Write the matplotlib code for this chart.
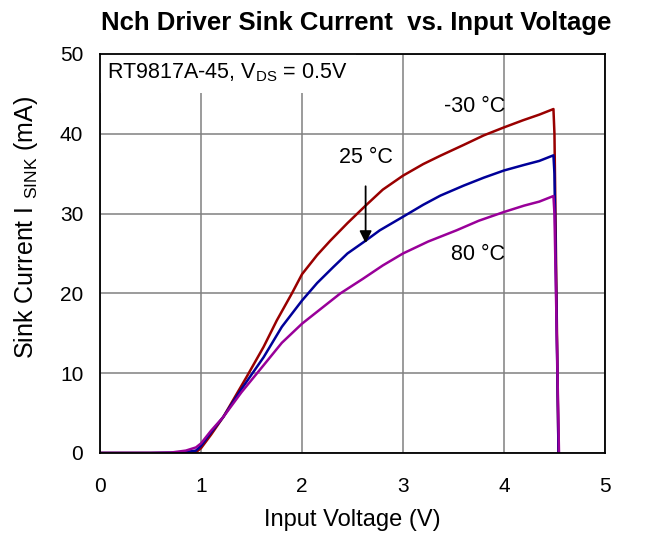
import matplotlib
matplotlib.use('Agg')
import matplotlib.pyplot as plt

plt.rcParams['font.family'] = ['Liberation Sans', 'DejaVu Sans']
plt.rcParams['mathtext.fontset'] = 'custom'
plt.rcParams['mathtext.rm'] = 'Liberation Sans'
plt.rcParams['mathtext.it'] = 'Liberation Sans'

# -30C
x_cold = [0, 0.5, 0.8, 0.95, 1.0, 1.1, 1.22, 1.45, 1.62, 1.75, 1.9, 2.0, 2.15, 2.28, 2.45, 2.63, 2.8, 3.0,
          3.2, 3.37, 3.6, 3.8, 4.0, 4.19, 4.35, 4.49, 4.50, 4.54]
y_cold = [0, 0, 0, 0.1, 0.6, 2.3, 4.5, 9.5, 13.3, 16.6, 20.0, 22.4, 24.8, 26.6, 28.8, 31.0, 33.0, 34.75,
          36.2, 37.25, 38.6, 39.8, 40.8, 41.7, 42.4, 43.1, 40.0, 0]
# 25C
x_room = [0, 0.5, 0.8, 0.95, 1.0, 1.1, 1.22, 1.4, 1.62, 1.8, 2.0, 2.15, 2.31, 2.45, 2.63, 2.77, 3.0,
          3.2, 3.37, 3.6, 3.8, 4.0, 4.2, 4.35, 4.49, 4.50, 4.54]
y_room = [0, 0, 0.05, 0.3, 0.9, 2.6, 4.5, 8.0, 12.0, 15.8, 19.1, 21.3, 23.3, 25.0, 26.6, 27.9, 29.6,
          31.1, 32.25, 33.5, 34.5, 35.4, 36.1, 36.6, 37.3, 35.0, 0]
# 80C
x_hot = [0, 0.5, 0.7, 0.85, 0.95, 1.0, 1.1, 1.22, 1.4, 1.62, 1.8, 2.0, 2.2, 2.38, 2.6, 2.8, 3.0,
         3.25, 3.53, 3.75, 4.0, 4.2, 4.35, 4.49, 4.50, 4.545]
y_hot = [0, 0, 0.05, 0.3, 0.7, 1.2, 2.8, 4.5, 7.6, 11.0, 13.8, 16.2, 18.2, 20.0, 21.8, 23.5, 25.0,
         26.5, 27.9, 29.1, 30.2, 31.0, 31.5, 32.2, 30.0, 0]

x_ticks = [0, 1, 2, 3, 4, 5]
y_ticks = [0, 10, 20, 30, 40, 50]

fig = plt.figure(figsize=(6.47, 5.35), dpi=100)
ax = fig.add_axes([0.1546, 0.1533, 0.7804, 0.7458])

ax.plot(x_cold, y_cold, color='#990000', lw=1.8)
ax.plot(x_room, y_room, color='#000099', lw=1.8)
ax.plot(x_hot, y_hot, color='#990099', lw=1.8)

ax.set_xlim(0, 5)
ax.set_ylim(0, 50)
ax.set_xticks(x_ticks)
ax.set_yticks(y_ticks)
ax.tick_params(length=0, labelsize=15)
ax.tick_params(axis='x', pad=17)
ax.tick_params(axis='y', pad=12)
ax.grid(True, color='#808080', lw=1.1)
ax.set_axisbelow(True)
for s in ax.spines.values():
    s.set_linewidth(1.3)
    s.set_zorder(5)

ax.set_xlabel('Input Voltage (V)', fontsize=17, labelpad=10)
ax.set_ylabel(r'Sink Current I $_\mathrm{SINK}$ (mA)', fontsize=18)
ax.yaxis.set_label_coords(-0.118, 0.565)
fig.suptitle('Nch Driver Sink Current  vs. Input Voltage', fontsize=18.5, fontweight='bold', x=0.551, y=0.98)

ax.text(0.07, 47.6, r'RT9817A-45, V$_\mathrm{DS}$ = 0.5V', fontsize=15.5, va='center', ha='left',
        bbox=dict(boxstyle='square,pad=0.4', fc='white', ec='none'), zorder=4)
ax.text(3.71, 43.4, '-30 °C', fontsize=15.5, ha='center', va='center')
ax.text(3.74, 24.9, '80 °C', fontsize=15.5, ha='center', va='center')
ax.annotate('25 °C', xy=(2.63, 26.3), xytext=(2.63, 37.0), fontsize=15.5, ha='center', va='center',
            arrowprops=dict(arrowstyle='-|>', color='black', lw=1.3, mutation_scale=18, shrinkA=11, shrinkB=0))

fig.savefig('out.png', dpi=100)
